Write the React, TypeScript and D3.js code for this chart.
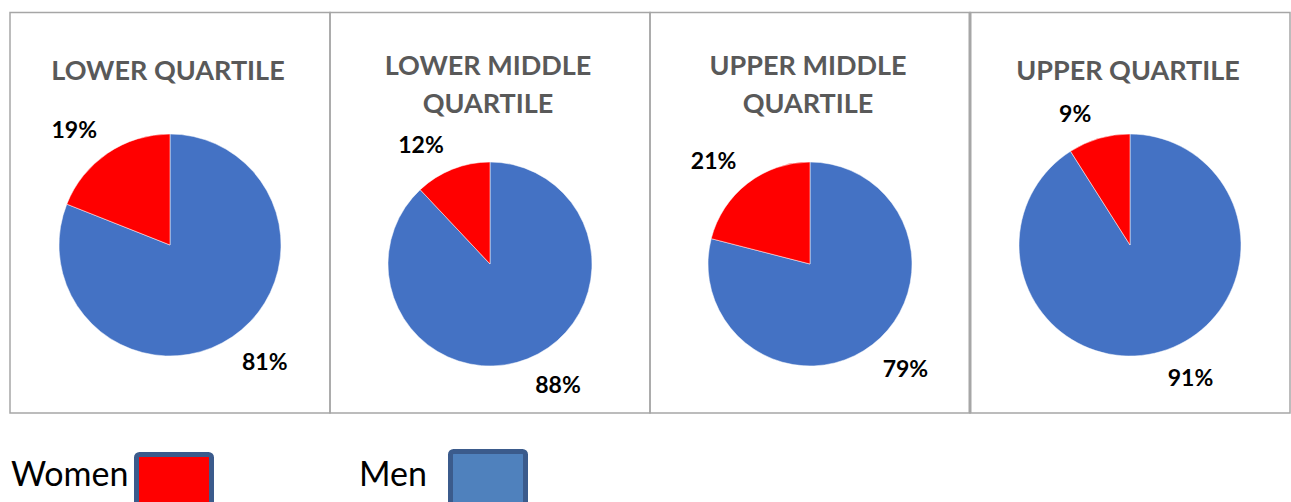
import React, { useRef, useEffect } from 'react';
import * as d3 from 'd3';

const quartiles = ['LOWER QUARTILE', 'LOWER MIDDLE QUARTILE', 'UPPER MIDDLE QUARTILE', 'UPPER QUARTILE'];
const titleLines = [['LOWER QUARTILE'], ['LOWER MIDDLE', 'QUARTILE'], ['UPPER MIDDLE', 'QUARTILE'], ['UPPER QUARTILE']];
const menShare = [81, 88, 79, 91];
const womenShare = [19, 12, 21, 9];
const seriesNames = ['Men', 'Women'];
const seriesColors = ['#4472c4', '#ff0000'];

const legendNames = ['Women', 'Men'];
const legendFills = ['#ff0000', '#4f81bd'];

const WIDTH = 1291;
const HEIGHT = 502;

const App: React.FC = () => {
  const svgRef = useRef<SVGSVGElement>(null);

  useEffect(() => {
    document.body.style.margin = '0';
    document.body.style.overflow = 'hidden';
    if (!svgRef.current) return;

    const svg = d3.select(svgRef.current);
    svg.selectAll('*').remove();

    const top = 12.5;
    const bottom = 413;

    const x = d3.scaleBand<string>().domain(quartiles).range([10, 1290]);
    const color = d3.scaleOrdinal<string, string>().domain(seriesNames).range(seriesColors);

    // panel frames
    const frames = svg.append('g');
    quartiles.forEach((q) => {
      frames.append('rect')
        .attr('x', x(q)!)
        .attr('y', top)
        .attr('width', x.bandwidth())
        .attr('height', bottom - top)
        .attr('fill', 'none')
        .attr('stroke', '#a6a6a6')
        .attr('stroke-width', 1.5);
    });
    // the slightly heavier divider before the last panel
    frames.append('line')
      .attr('x1', x(quartiles[3])!)
      .attr('x2', x(quartiles[3])!)
      .attr('y1', top)
      .attr('y2', bottom)
      .attr('stroke', '#a6a6a6')
      .attr('stroke-width', 3);

    const pie = d3.pie<{ name: string; value: number }>()
      .sort(null)
      .value(d => d.value);

    quartiles.forEach((q, i) => {
      const lines = titleLines[i];
      const extra = lines.length - 1;
      const cx = x(q)! + x.bandwidth() / 2;
      const cy = 245 + extra * 19;
      const r = 111 - extra * 9;

      const g = svg.append('g');

      g.append('text')
        .attr('x', cx - 2)
        .attr('y', extra ? 75 : 80)
        .attr('text-anchor', 'middle')
        .style('font-family', 'Lato, "Open Sans", sans-serif')
        .style('font-weight', '700')
        .style('font-size', '27px')
        .style('fill', '#595959')
        .selectAll('tspan')
        .data(lines)
        .enter()
        .append('tspan')
        .attr('x', cx - 2)
        .attr('dy', (_, j) => (j === 0 ? 0 : 38))
        .text(d => d);

      const data = [
        { name: 'Men', value: menShare[i] },
        { name: 'Women', value: womenShare[i] },
      ];
      const arcs = pie(data);
      const arc = d3.arc<d3.PieArcDatum<{ name: string; value: number }>>()
        .innerRadius(0)
        .outerRadius(r);

      const pg = g.append('g').attr('transform', `translate(${cx},${cy})`);
      pg.selectAll('path')
        .data(arcs)
        .enter()
        .append('path')
        .attr('d', arc)
        .attr('fill', d => color(d.data.name))
        .attr('stroke', '#ffffff')
        .attr('stroke-width', 0.5);

      // outside-end labels
      arcs.forEach((a) => {
        const mid = (a.startAngle + a.endAngle) / 2;
        const px = Math.sin(mid) * (r + 10);
        const py = -Math.cos(mid) * (r + 10);
        const upper = Math.cos(mid) > 0;
        const left = Math.sin(mid) < 0;
        pg.append('text')
          .attr('x', left ? px - 5 : px + 4)
          .attr('y', upper ? py - 6.5 : py + 25)
          .attr('text-anchor', left ? 'end' : 'start')
          .style('font-family', 'Lato, "Open Sans", sans-serif')
          .style('font-weight', '700')
          .style('font-size', '23px')
          .style('fill', '#000000')
          .text(`${a.data.value}%`);
      });
    });

    // legend
    const legendText = [11, 359];
    const legendBox = [134, 448];
    const legendTop = [452, 449];
    legendNames.forEach((name, i) => {
      svg.append('text')
        .attr('x', legendText[i])
        .attr('y', 486)
        .style('font-family', 'Lato, "Open Sans", sans-serif')
        .style('font-size', '34px')
        .style('fill', '#000000')
        .text(name);
      svg.append('rect')
        .attr('x', legendBox[i] + 2.5)
        .attr('y', legendTop[i] + 2.5)
        .attr('width', 75)
        .attr('height', 75)
        .attr('rx', 3)
        .attr('fill', legendFills[i])
        .attr('stroke', '#3b5b8c')
        .attr('stroke-width', 5);
    });
  }, []);

  return <svg ref={svgRef} width={WIDTH} height={HEIGHT} style={{ display: 'block', background: '#ffffff' }} />;
};

export default App;
